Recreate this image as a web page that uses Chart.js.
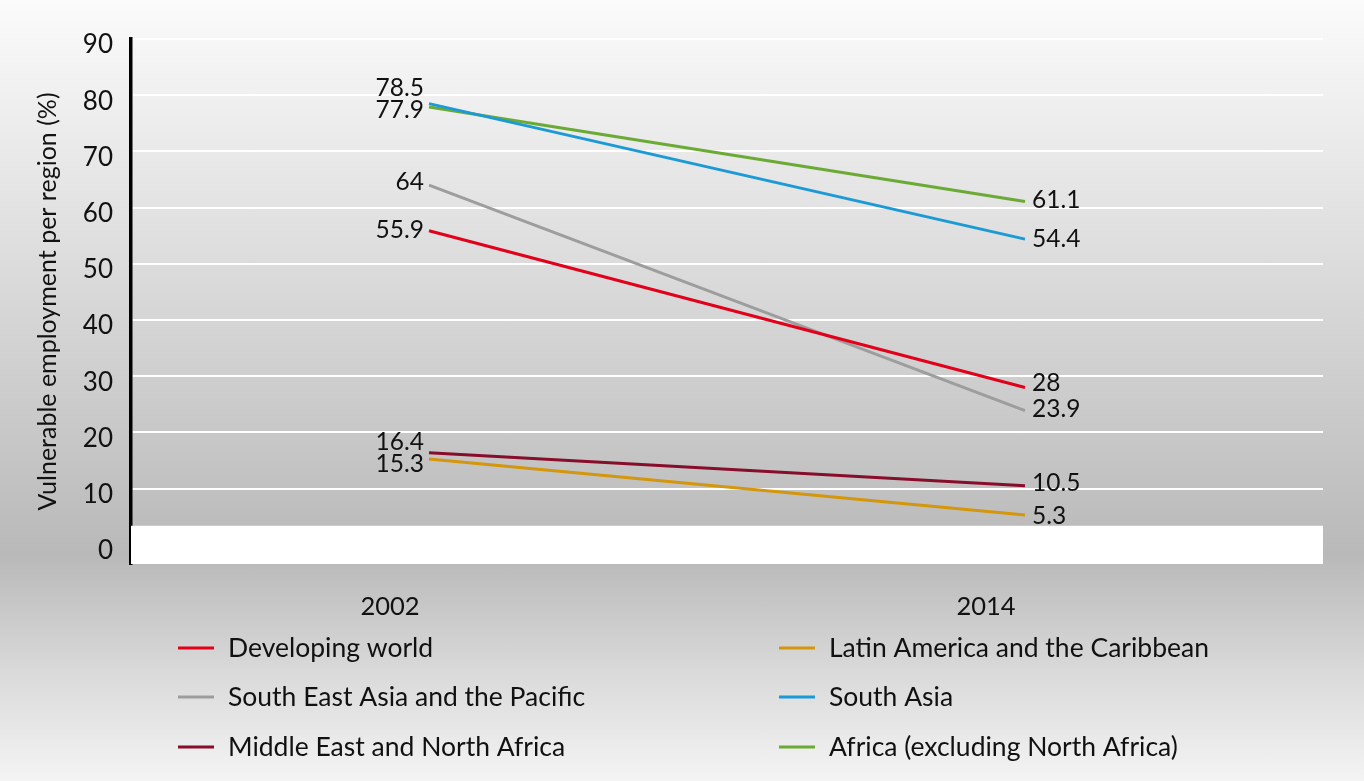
<!DOCTYPE html>
<html>
<head>
<meta charset="utf-8">
<script src="https://cdn.jsdelivr.net/npm/chart.js@4.4.1/dist/chart.umd.min.js"></script>
<style>
  html, body { margin: 0; padding: 0; }
  body {
    width: 1364px; height: 781px; overflow: hidden;
    background: linear-gradient(to bottom, #fbfbfb 0px, #e6e6e6 180px, #b9b9b9 555px, #d9d9d9 670px, #f4f4f4 781px);
  }
  #chart { display: block; }
</style>
</head>
<body>
<canvas id="chart" width="1364" height="781"></canvas>
<script>
// data
const years = ['2002', '2014'];
const regions = [
    'Developing world',
    'Latin America and the Caribbean',
    'South East Asia and the Pacific',
    'South Asia',
    'Middle East and North Africa',
    'Africa (excluding North Africa)'
];
const developingWorld = [55.9, 28];
const latinAmerica = [15.3, 5.3];
const southEastAsia = [64, 23.9];
const southAsia = [78.5, 54.4];
const middleEast = [16.4, 10.5];
const africa = [77.9, 61.1];
const yTicks = [0, 10, 20, 30, 40, 50, 60, 70, 80, 90];

const colors = ['#e2001a', '#d4960a', '#9d9d9d', '#1a9ad6', '#870d2b', '#6aaa35'];
// small vertical nudges so the value labels don't overlap (px)
const nudges = [[-1, -4], [5, 1], [-3, -1], [-16, 0], [-11, -3], [3, -1]];

const FONT = 'Lato, "Open Sans", sans-serif';
Chart.defaults.font.family = FONT;
Chart.defaults.color = '#111';

const seriesData = [developingWorld, latinAmerica, southEastAsia, southAsia, middleEast, africa];

// white strip at the bottom of the plot
const whiteStrip = {
    id: 'whiteStrip',
    beforeDatasetsDraw(chart) {
        const {ctx, chartArea, scales} = chart;
        const yTop = scales.y.getPixelForValue(3.4);
        ctx.save();
        ctx.fillStyle = '#ffffff';
        ctx.fillRect(chartArea.left, yTop, chartArea.right - chartArea.left, chartArea.bottom - yTop);
        ctx.restore();
    }
};

// value labels next to each end point
const valueLabels = {
    id: 'valueLabels',
    afterDatasetsDraw(chart) {
        const ctx = chart.ctx;
        ctx.save();
        ctx.font = '24.5px ' + FONT;
        ctx.fillStyle = '#111';
        ctx.textBaseline = 'middle';
        chart.data.datasets.forEach((ds, i) => {
            const meta = chart.getDatasetMeta(i);
            meta.data.forEach((pt, j) => {
                const txt = String(ds.data[j]);
                if (j === 0) {
                    ctx.textAlign = 'right';
                    ctx.fillText(txt, pt.x - 5, pt.y + nudges[i][j]);
                } else {
                    ctx.textAlign = 'left';
                    ctx.fillText(txt, pt.x + 7, pt.y + nudges[i][j]);
                }
            });
        });
        ctx.restore();
    }
};

// two column legend below the axis
const bottomLegend = {
    id: 'bottomLegend',
    afterDraw(chart) {
        const ctx = chart.ctx;
        const colX = [178, 779];
        const rowY = [648, 697, 747];
        ctx.save();
        ctx.font = '26.5px ' + FONT;
        ctx.textBaseline = 'middle';
        ctx.textAlign = 'left';
        chart.data.datasets.forEach((ds, i) => {
            const x = colX[i % 2];
            const y = rowY[Math.floor(i / 2)];
            ctx.strokeStyle = ds.borderColor;
            ctx.lineWidth = 3;
            ctx.beginPath();
            ctx.moveTo(x, y);
            ctx.lineTo(x + 36, y);
            ctx.stroke();
            ctx.fillStyle = '#111';
            ctx.fillText(ds.label, x + 50, y);
        });
        ctx.restore();
    }
};

new Chart(document.getElementById('chart'), {
    type: 'line',
    data: {
        labels: years,
        datasets: regions.map((name, i) => ({
            label: name,
            data: seriesData[i],
            borderColor: colors[i],
            backgroundColor: colors[i],
            borderWidth: 3,
            pointRadius: 0,
            tension: 0
        }))
    },
    options: {
        responsive: false,
        animation: false,
        devicePixelRatio: 1,
        layout: { padding: { top: 39, right: 41, bottom: 0, left: 0 } },
        plugins: {
            legend: { display: false },
            tooltip: { enabled: false }
        },
        scales: {
            x: {
                offset: true,
                grid: { display: false, drawTicks: false },
                border: { display: false },
                ticks: { font: { size: 25.5 }, color: '#111', padding: 27, labelOffset: -39 },
                afterFit(scale) { scale.height = 217; }
            },
            y: {
                min: -3.4,
                max: 90,
                afterBuildTicks(scale) { scale.ticks = yTicks.map(v => ({ value: v })); },
                grid: { color: '#ffffff', lineWidth: 2, drawTicks: false },
                border: { display: true, color: '#000', width: 3.5 },
                ticks: { font: { size: 26 }, color: '#111', padding: 18, labelOffset: 6 },
                title: {
                    display: true,
                    text: 'Vulnerable employment per region (%)',
                    font: { size: 25 },
                    color: '#111',
                    padding: { top: 33, bottom: 0 }
                },
                afterFit(scale) { scale.width = 131; }
            }
        }
    },
    plugins: [whiteStrip, valueLabels, bottomLegend]
});
</script>
</body>
</html>
